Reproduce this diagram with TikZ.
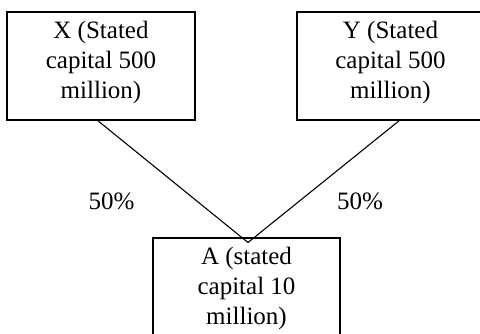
\documentclass[tikz,border=0pt]{standalone}
\usepackage{fontspec}
\setmainfont{Liberation Serif}
\begin{document}
\begin{tikzpicture}[x=1pt,y=-1pt,
  boxline/.style={draw=black,line width=1.1pt},
  conn/.style={draw=black,line width=1.1pt},
  lbl/.style={anchor=base,inner sep=0pt,font=\fontsize{25}{30}\selectfont}]
\useasboundingbox (0,0) rectangle (480,333);
\clip (0,0) rectangle (480,333);
% boxes
\draw[boxline] (7,12) rectangle (195,120);
\draw[boxline] (297,12) rectangle (486,120);
\draw[boxline] (153,238) rectangle (340,350);
\coordinate (xb) at (97,120);
\coordinate (yb) at (400,120);
\coordinate (ap) at (248,242.5);
% box texts
\node[lbl] (x1) at (101,38) {X (Stated};
\node[lbl] (x2) at (101,68) {capital 500};
\node[lbl] (x3) at (101,98) {million)};
\node[lbl] (y1) at (390.5,38) {Y (Stated};
\node[lbl] (y2) at (390.5,68) {capital 500};
\node[lbl] (y3) at (390.5,98) {million)};
\node[lbl] (a1) at (246.5,264) {A (stated};
\node[lbl] (a2) at (246.5,294) {capital 10};
\node[lbl] (a3) at (246.5,324) {million)};
% connectors
\draw[conn,line join=miter] (xb) -- (ap) -- (yb);
% percentages
\node[lbl] (p1) at (111.5,209) {50\%};
\node[lbl] (p2) at (360,209) {50\%};
\end{tikzpicture}
\end{document}
